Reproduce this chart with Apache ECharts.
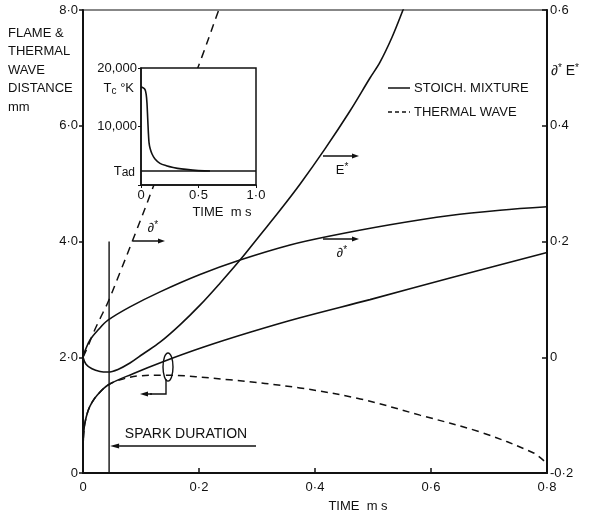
<!DOCTYPE html>
<html><head><meta charset="utf-8">
<script src="https://cdn.jsdelivr.net/npm/echarts@6/dist/echarts.min.js"></script>
<style>html,body{margin:0;padding:0;background:#fff}#c{width:590px;height:515px}</style>
</head><body><div id="c"></div>
<script>
// ---------- DATA ----------
// main axis ticks
const timeTicks = [0, 0.2, 0.4, 0.6, 0.8];          // ms
const distTicks = [0, 2, 4, 6, 8];                  // mm (left)
const starTicks = [-0.2, 0, 0.2, 0.4, 0.6];         // delta*, E* (right)

// stoichiometric mixture: delta* (right axis)
const deltaStoichT = [0, 0.0034, 0.0121, 0.0259, 0.0431, 0.081, 0.1328, 0.2017, 0.2707, 0.3569, 0.4259, 0.5293, 0.6328, 0.719, 0.8];
const deltaStoich  = [0, 0.011, 0.030, 0.047, 0.064, 0.087, 0.113, 0.143, 0.168, 0.194, 0.2095, 0.229, 0.245, 0.254, 0.260];

// stoichiometric mixture: E* (right axis)
const eStoichT = [0, 0.0052, 0.0155, 0.0293, 0.0431, 0.0603, 0.081, 0.1034, 0.1328, 0.1672, 0.2017, 0.2362, 0.2707, 0.3052, 0.3397, 0.3741, 0.4172, 0.4603, 0.4948, 0.5121, 0.5328, 0.5517, 0.5672];
const eStoich  = [0, -0.012, -0.020, -0.0245, -0.0255, -0.021, -0.010, 0.0056, 0.026, 0.056, 0.090, 0.128, 0.168, 0.211, 0.254, 0.299, 0.360, 0.4255, 0.4825, 0.510, 0.553, 0.600, 0.640];

// stoichiometric mixture: flame distance, mm (left axis)
const flameT    = [0, 0.001, 0.003, 0.0086, 0.015, 0.024, 0.0431, 0.0862, 0.1379, 0.2069, 0.2879, 0.3741, 0.4948, 0.6328, 0.8];
const flameDist = [0.40, 0.66, 0.85, 1.07, 1.21, 1.34, 1.52, 1.716, 1.923, 2.172, 2.431, 2.682, 2.996, 3.369, 3.81];

// thermal wave: distance, mm (left axis)
const thermalT    = [0, 0.001, 0.003, 0.0086, 0.015, 0.024, 0.043, 0.064, 0.098, 0.138, 0.253, 0.374, 0.478, 0.581, 0.684, 0.776, 0.797];
const thermalDist = [0.40, 0.66, 0.85, 1.07, 1.21, 1.34, 1.52, 1.61, 1.68, 1.69, 1.61, 1.47, 1.28, 1.00, 0.71, 0.35, 0.19];

// thermal wave: delta* (right axis)
const thermalDeltaT = [0, 0.0086, 0.017, 0.029, 0.043, 0.064, 0.086, 0.119, 0.205, 0.234, 0.247];
const thermalDelta  = [0, 0.019, 0.040, 0.066, 0.095, 0.147, 0.203, 0.289, 0.519, 0.600, 0.635];

// spark duration
const sparkDuration = 0.045;   // ms
const sparkLineTop  = 4.0;     // mm

// inset: core temperature
const insetTimeTicks = [0, 0.5, 1.0];
const insetTempTicks = [0, 10000, 20000];
const tcTime = [0, 0.02, 0.035, 0.045, 0.052, 0.058, 0.064, 0.07, 0.08, 0.096, 0.12, 0.165, 0.22, 0.28, 0.35, 0.45, 0.55, 0.6];
const tcTemp = [16800, 16600, 16300, 15500, 14000, 11500, 9000, 7200, 6200, 5300, 4500, 3700, 3300, 3000, 2750, 2550, 2420, 2400];
const tadTemp = 2400;

// ---------- CHART ----------
const FONT = "'Liberation Sans', Arial, sans-serif";
const INK = '#111';
const zip = (a, b) => a.map((v, i) => [v, b[i]]);
const dot = v => String(v).replace('.', '·');
const fmt1 = v => Math.abs(v) < 1e-9 ? '0' : dot(v.toFixed(1));

const chart = echarts.init(document.getElementById('c'), null, {renderer: 'canvas'});
const lbl = {color: INK, fontFamily: FONT, fontSize: 13};
const solid = {color: INK, width: 1.6};
const dashed = {color: INK, width: 1.5, type: [7, 5]};
const SM = 0.35;

chart.setOption({
  animation: false,
  backgroundColor: '#fff',
  grid: [
    {left: 83, top: 10, width: 464, height: 463, show: true, borderColor: INK, borderWidth: 1.2, backgroundColor: 'transparent'},
    {left: 141, top: 68, width: 115, height: 117, show: true, borderColor: INK, borderWidth: 1.5, backgroundColor: '#fff', z: 5}
  ],
  xAxis: [
    {type: 'value', gridIndex: 0, min: timeTicks[0], max: timeTicks[timeTicks.length - 1], interval: 0.2,
     axisLine: {lineStyle: {color: INK, width: 2}}, axisTick: {inside: true, length: 5, lineStyle: {color: INK, width: 1.5}},
     splitLine: {show: false}, axisLabel: Object.assign({margin: 8, formatter: fmt1}, lbl)},
    {type: 'value', gridIndex: 1, min: insetTimeTicks[0], max: insetTimeTicks[2], interval: 0.5, z: 6,
     axisLine: {lineStyle: {color: INK, width: 1.5}}, axisTick: {length: 3, lineStyle: {color: INK}},
     splitLine: {show: false}, axisLabel: Object.assign({margin: 4, formatter: fmt1, showMaxLabel: true}, lbl)}
  ],
  yAxis: [
    {type: 'value', gridIndex: 0, position: 'left', min: distTicks[0], max: distTicks[distTicks.length - 1], interval: 2,
     axisLine: {show: true, lineStyle: {color: INK, width: 2}}, axisTick: {show: true, length: 4, lineStyle: {color: INK, width: 1.5}},
     splitLine: {show: false}, axisLabel: Object.assign({margin: 5, formatter: fmt1}, lbl)},
    {type: 'value', gridIndex: 0, position: 'right', min: starTicks[0], max: starTicks[starTicks.length - 1], interval: 0.2,
     axisLine: {show: true, lineStyle: {color: INK, width: 2}}, axisTick: {show: true, inside: true, length: 5, lineStyle: {color: INK, width: 1.5}},
     splitLine: {show: false}, axisLabel: Object.assign({margin: 3, formatter: fmt1}, lbl)},
    {type: 'value', gridIndex: 1, min: insetTempTicks[0], max: insetTempTicks[2], interval: 10000, z: 6,
     axisLine: {show: true, lineStyle: {color: INK, width: 1.5}}, axisTick: {show: true, length: 3, lineStyle: {color: INK}},
     splitLine: {show: false},
     axisLabel: Object.assign({margin: 4, formatter: v => v === 0 ? '' : v.toLocaleString('en-US')}, lbl)}
  ],
  series: [
    {name: 'delta* stoich', type: 'line', xAxisIndex: 0, yAxisIndex: 1, data: zip(deltaStoichT, deltaStoich),
     showSymbol: false, smooth: SM, lineStyle: solid, z: 2},
    {name: 'E* stoich', type: 'line', xAxisIndex: 0, yAxisIndex: 1, data: zip(eStoichT, eStoich),
     showSymbol: false, smooth: SM, lineStyle: solid, z: 2},
    {name: 'flame distance', type: 'line', xAxisIndex: 0, yAxisIndex: 0, data: zip(flameT, flameDist),
     showSymbol: false, smooth: SM, lineStyle: solid, z: 2},
    {name: 'thermal wave distance', type: 'line', xAxisIndex: 0, yAxisIndex: 0, data: zip(thermalT, thermalDist),
     showSymbol: false, smooth: SM, lineStyle: dashed, z: 2},
    {name: 'thermal wave delta*', type: 'line', xAxisIndex: 0, yAxisIndex: 1, data: zip(thermalDeltaT, thermalDelta),
     showSymbol: false, smooth: SM, lineStyle: {color: INK, width: 1.5, type: [8, 6]}, z: 2},
    {name: 'spark', type: 'line', xAxisIndex: 0, yAxisIndex: 0, data: [[sparkDuration, 0], [sparkDuration, sparkLineTop]],
     showSymbol: false, lineStyle: {color: INK, width: 1.4}, z: 2},
    {name: 'Tc', type: 'line', xAxisIndex: 1, yAxisIndex: 2, data: zip(tcTime, tcTemp),
     showSymbol: false, smooth: 0.25, lineStyle: solid, z: 7},
    {name: 'Tad', type: 'line', xAxisIndex: 1, yAxisIndex: 2, data: [[insetTimeTicks[0], tadTemp], [insetTimeTicks[2], tadTemp]],
     showSymbol: false, lineStyle: {color: INK, width: 1.4}, z: 7}
  ]
});

// ---------- ANNOTATIONS ----------
function arrow(x1, y1, x2, y2, head) {
  head = head || 7;
  const a = Math.atan2(y2 - y1, x2 - x1), w = 2.6;
  const bx = x2 - head * Math.cos(a), by = y2 - head * Math.sin(a);
  return [
    {type: 'line', shape: {x1, y1, x2: bx, y2: by}, style: {stroke: INK, lineWidth: 1.5}, z: 20},
    {type: 'polygon', shape: {points: [[x2, y2], [bx - w * Math.sin(a), by + w * Math.cos(a)], [bx + w * Math.sin(a), by - w * Math.cos(a)]]},
     style: {fill: INK}, z: 20}
  ];
}
const starRich = {s: {fontSize: 10, fontFamily: FONT, fill: INK, verticalAlign: 'top', padding: [0, 0, 6, 0]}};
function richTxt(x, y, text, align, rich, fontSize) {
  return {type: 'text', x, y, z: 20,
    style: {text, fill: INK, fontFamily: FONT, fontSize: fontSize || 13, align: align || 'left', verticalAlign: 'middle', rich}};
}

const sparkPx = chart.convertToPixel({xAxisIndex: 0, yAxisIndex: 0}, [sparkDuration, 0]);
const els = [];
// left axis title
['FLAME &', 'THERMAL', 'WAVE', 'DISTANCE', 'mm'].forEach((s, i) => {
  els.push(richTxt(8, 33 + i * 18.5, s, 'left', {}, 13));
});
// right axis title
els.push(richTxt(551, 71, '∂{s|*} E{s|*}', 'left', starRich, 14));
// x axis title
els.push(richTxt(358, 506, 'TIME  m s', 'center', {}, 13));
// legend
els.push({type: 'line', shape: {x1: 388, y1: 88, x2: 410, y2: 88}, style: {stroke: INK, lineWidth: 1.5}, z: 20});
els.push(richTxt(414, 88, 'STOICH. MIXTURE', 'left', {}, 13));
els.push({type: 'line', shape: {x1: 388, y1: 112, x2: 410, y2: 112}, style: {stroke: INK, lineWidth: 1.5, lineDash: [4, 3]}, z: 20});
els.push(richTxt(414, 112, 'THERMAL WAVE', 'left', {}, 13));
// curve labels
els.push(...arrow(323, 156, 359, 156));
els.push(richTxt(342, 170, 'E{s|*}', 'center', starRich, 13));
els.push(...arrow(323, 239, 359, 239));
els.push(richTxt(342, 253, '∂{s|*}', 'center', starRich, 13));
els.push(...arrow(133, 241, 165, 241));
els.push(richTxt(153, 228, '∂{s|*}', 'center', starRich, 13));
// spark duration
els.push(...arrow(256, 446, sparkPx[0] + 1, 446, 9));
els.push(richTxt(186, 434, 'SPARK DURATION', 'center', {}, 14));
// ellipse and bracket
els.push({type: 'ellipse', shape: {cx: 168, cy: 367, rx: 5, ry: 14}, style: {stroke: INK, fill: 'none', lineWidth: 1.4}, z: 20});
els.push({type: 'polyline', shape: {points: [[166, 379], [166, 394], [150, 394]]}, style: {stroke: INK, lineWidth: 1.4, fill: 'none'}, z: 20});
els.push(...arrow(152, 394, 140, 394, 8));
// inset labels
const tadPx = chart.convertToPixel({xAxisIndex: 1, yAxisIndex: 2}, [0, tadTemp]);
els.push(richTxt(134, 88, 'T{c|c} °K', 'right', {c: {fontSize: 10, fontFamily: FONT, fill: INK, verticalAlign: 'bottom', padding: [6, 0, 0, 0]}}, 13));
els.push(richTxt(135, tadPx[1], 'T{c|ad}', 'right', {c: {fontSize: 12, fontFamily: FONT, fill: INK, verticalAlign: 'bottom', padding: [4, 0, 0, 0]}}, 13));
els.push(richTxt(222, 212, 'TIME  m s', 'center', {}, 13));

chart.setOption({graphic: {elements: els}});
</script>
</body></html>
